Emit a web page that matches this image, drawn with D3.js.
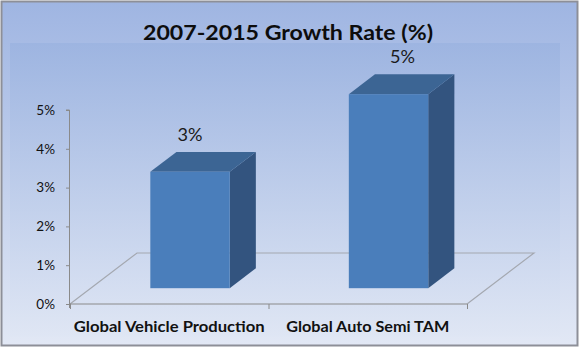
<!DOCTYPE html>
<html>
<head>
<meta charset="utf-8">
<script src="https://cdn.jsdelivr.net/npm/d3@7"></script>
<style>
  html, body { margin: 0; padding: 0; background: #fff; }
  svg { display: block; }
</style>
</head>
<body>
<script>
// data
const title = "2007-2015 Growth Rate (%)";
const categories = ["Global Vehicle Production", "Global Auto Semi TAM"];
const values = [3, 5];
const valueLabels = ["3%", "5%"];
const yTicks = [0, 1, 2, 3, 4, 5];

// layout
const W = 580, H = 349;
const x0 = 70, x1 = 467, yBase = 304, yTop = 110;
const depth = { dx: 67, dy: -51 };          // floor depth
const barStart = 0.31, barDepth = 0.39;    // fraction of floor depth
const labelNudge = [0, 14];

const svg = d3.select("body").append("svg").attr("width", W).attr("height", H);
const defs = svg.append("defs");

const bg = defs.append("linearGradient").attr("id", "bg").attr("x1", 0).attr("y1", 0).attr("x2", 0).attr("y2", 1);
bg.append("stop").attr("offset", "0%").attr("stop-color", "#9fb5e2");
bg.append("stop").attr("offset", "100%").attr("stop-color", "#e2e8f5");

const pa = defs.append("linearGradient").attr("id", "pa").attr("x1", 0).attr("y1", 0).attr("x2", 0).attr("y2", 1);
pa.append("stop").attr("offset", "0%").attr("stop-color", "#9bb3e0");
pa.append("stop").attr("offset", "100%").attr("stop-color", "#dfe6f4");

// chart background + border
svg.append("rect").attr("x", 1.5).attr("y", 1.5).attr("width", 576).attr("height", 344)
  .attr("fill", "url(#bg)").attr("stroke", "#8d8f98").attr("stroke-width", 2);
// plot area
svg.append("rect").attr("x", 10).attr("y", 43).attr("width", 550).attr("height", 294)
  .attr("fill", "url(#pa)").attr("opacity", 0.8);

// scales
const x = d3.scaleBand().domain(categories).range([x0, x1]);
const y = d3.scaleLinear().domain([0, 5]).range([yBase, yTop]);

// floor
const floorPts = [[x0, yBase], [x0 + depth.dx, yBase + depth.dy], [x1 + depth.dx, yBase + depth.dy], [x1, yBase]];
svg.append("path")
  .attr("d", d3.line()(floorPts))
  .attr("fill", "none").attr("stroke", "#a4a8b0").attr("stroke-width", 1.2);

// y axis
const yAxis = svg.append("g").attr("transform", `translate(${x0},0)`)
  .call(d3.axisLeft(y).tickValues(yTicks).tickSize(4).tickPadding(11).tickFormat(d => d + "%"));
yAxis.select(".domain").attr("stroke", "#8a8a8a").attr("d", `M-0.5,${yBase + 4}V${yTop}H-4`);
yAxis.selectAll(".tick line").attr("stroke", "#8a8a8a");
yAxis.selectAll("text").attr("font-family", "Lato, 'Open Sans', sans-serif")
  .attr("font-size", 13.5).attr("fill", "#111");

// x axis (front floor edge)
const xAxis = svg.append("g").attr("transform", `translate(0,${yBase})`);
xAxis.append("line").attr("x1", x0).attr("x2", x1).attr("stroke", "#8a8a8a");
xAxis.selectAll(".xt").data([x0, x0 + x.step(), x1]).join("line")
  .attr("x1", d => d + 0.5).attr("x2", d => d + 0.5).attr("y1", 0).attr("y2", 5).attr("stroke", "#8a8a8a");
const catLabelWidths = [191, 163];
xAxis.selectAll(".cat").data(categories).join("text")
  .attr("x", d => x(d) + x.bandwidth() / 2)
  .attr("y", 28)
  .attr("text-anchor", "middle")
  .attr("font-family", "Lato, 'Open Sans', sans-serif")
  .attr("font-weight", "bold").attr("font-size", 15.5).attr("fill", "#111")
  .attr("textLength", (d, i) => catLabelWidths[i]).attr("lengthAdjust", "spacingAndGlyphs")
  .text(d => d);

// bars
const bw = x.bandwidth() * 0.4;
const ox = depth.dx * barStart, oy = depth.dy * barStart;
const bdx = depth.dx * barDepth, bdy = depth.dy * barDepth;
const bars = svg.append("g").selectAll("g").data(categories).join("g");
bars.each(function (c, i) {
  const g = d3.select(this);
  const cx = x(c) + x.bandwidth() / 2 + ox;
  const base = yBase + oy;
  const h = yBase - y(values[i]);
  const l = cx - bw / 2, r = cx + bw / 2, t = base - h;
  // side
  g.append("path").attr("d", d3.line()([[r, base], [r + bdx, base + bdy], [r + bdx, t + bdy], [r, t]]) + "Z")
    .attr("fill", "#33547f");
  // top
  g.append("path").attr("d", d3.line()([[l, t], [l + bdx, t + bdy], [r + bdx, t + bdy], [r, t]]) + "Z")
    .attr("fill", "#3c6594");
  // front
  g.append("rect").attr("x", l).attr("y", t).attr("width", bw).attr("height", h).attr("fill", "#4a7ebb");
  // label
  g.append("text")
    .attr("x", cx + labelNudge[i]).attr("y", t + bdy - 11)
    .attr("text-anchor", "middle")
    .attr("font-family", "Lato, 'Open Sans', sans-serif")
    .attr("font-size", 17.5).attr("fill", "#1a1a1a")
    .attr("textLength", 25).attr("lengthAdjust", "spacingAndGlyphs")
    .text(valueLabels[i]);
});

// title
svg.append("text")
  .attr("x", 288).attr("y", 40)
  .attr("text-anchor", "middle")
  .attr("font-family", "Lato, 'Open Sans', sans-serif")
  .attr("font-weight", "bold").attr("font-size", 21).attr("fill", "#0d0d0d")
  .attr("textLength", 290).attr("lengthAdjust", "spacingAndGlyphs")
  .text(title);
</script>
</body>
</html>
